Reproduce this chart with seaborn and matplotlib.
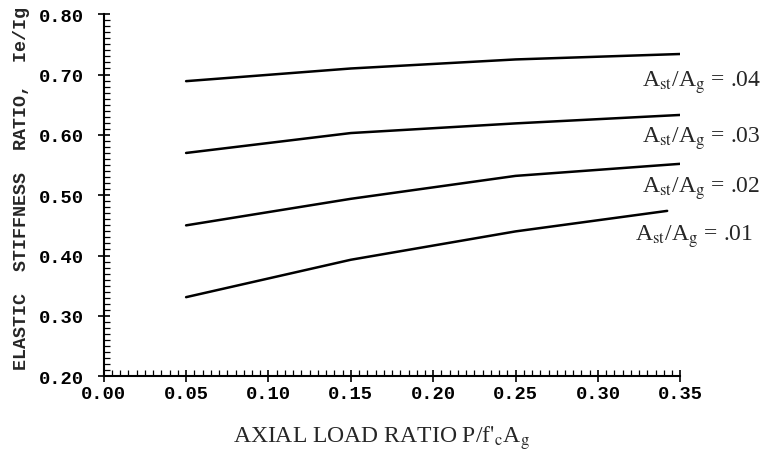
import numpy as np
import pandas as pd
import matplotlib
matplotlib.use("Agg")
import matplotlib.pyplot as plt
import seaborn as sns
from matplotlib.ticker import MultipleLocator, FormatStrFormatter

# data
axial_04 = [0.05, 0.15, 0.25, 0.35]
ratio_04 = [0.689, 0.710, 0.725, 0.734]
axial_03 = [0.05, 0.15, 0.25, 0.35]
ratio_03 = [0.570, 0.603, 0.619, 0.633]
axial_02 = [0.05, 0.15, 0.25, 0.35]
ratio_02 = [0.450, 0.494, 0.532, 0.552]
axial_01 = [0.05, 0.15, 0.25, 0.342]
ratio_01 = [0.331, 0.393, 0.440, 0.474]
series_names = [".04", ".03", ".02", ".01"]

sns.set_theme(style="ticks")
plt.rcParams["mathtext.fontset"] = "stix"

frames = []
for name, xs, ys in zip(series_names,
                        [axial_04, axial_03, axial_02, axial_01],
                        [ratio_04, ratio_03, ratio_02, ratio_01]):
    frames.append(pd.DataFrame({"axial": xs, "ratio": ys, "series": name}))
df = pd.concat(frames, ignore_index=True)

fig = plt.figure(figsize=(7.74, 4.6), dpi=100)
ax = fig.add_axes([0.134, 0.180, 0.745, 0.787])
sns.lineplot(data=df, x="axial", y="ratio", hue="series",
             palette=["black"] * 4, linewidth=1.8, legend=False, ax=ax,
             sort=False)

ax.set_xlim(0.0, 0.35)
ax.set_ylim(0.20, 0.80)
ax.xaxis.set_major_locator(MultipleLocator(0.05))
ax.xaxis.set_minor_locator(MultipleLocator(0.005))
ax.yaxis.set_major_locator(MultipleLocator(0.10))
ax.yaxis.set_minor_locator(MultipleLocator(0.01))
ax.xaxis.set_major_formatter(FormatStrFormatter("%.2f"))
ax.yaxis.set_major_formatter(FormatStrFormatter("%.2f"))
ax.tick_params(which="major", direction="inout", length=9, width=1.2,
               colors="black", labelsize=13.5)
ax.tick_params(axis="x", which="major", pad=2)
ax.tick_params(axis="y", which="major", pad=10)
ax.tick_params(which="minor", direction="in", length=4, width=0.9,
               colors="black")
for lab in ax.get_xticklabels() + ax.get_yticklabels():
    lab.set_family("Liberation Mono")
    lab.set_fontweight("bold")
for side in ["top", "right"]:
    ax.spines[side].set_visible(False)
for side in ["left", "bottom"]:
    ax.spines[side].set_color("black")
    ax.spines[side].set_linewidth(1.5)

ax.set_xlabel(r"AXIAL LOAD RATIO P/f$'_{\mathrm{c}}$A$_{\mathrm{g}}$",
              family="Liberation Serif", fontsize=17)
ax.xaxis.set_label_coords(0.481, -0.13)
ax.set_ylabel("ELASTIC  STIFFNESS  RATIO,  Ie/Ig", family="Liberation Mono",
              fontweight="bold", fontsize=13.2)
ax.yaxis.set_label_coords(-0.128, 0.52)

label_pos = [(0.3268, 0.681), (0.3268, 0.588), (0.3268, 0.505), (0.3227, 0.427)]
for name, (lx, ly) in zip(series_names, label_pos):
    ax.text(lx, ly, r"A$_{\mathrm{st}}$/A$_{\mathrm{g}}$ = " + name,
            family="Liberation Serif", fontsize=17, ha="left", va="baseline",
            clip_on=False)

fig.savefig("out.png", dpi=100)
